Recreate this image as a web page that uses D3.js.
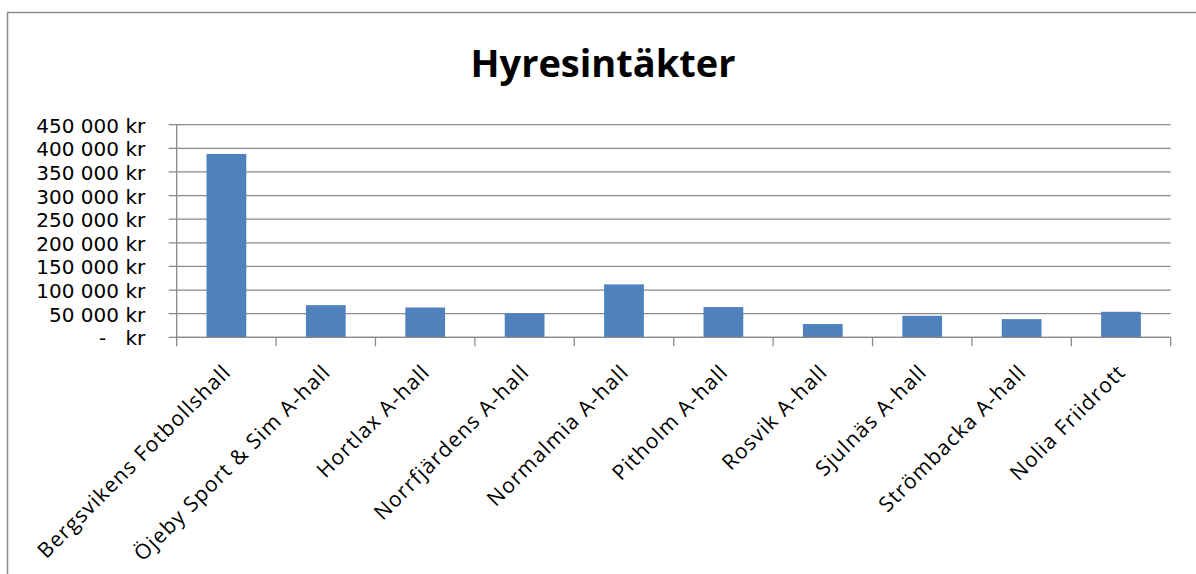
<!doctype html>
<html lang="sv">
  <head>
    <meta charset="utf-8">
    <title>Hyresintäkter</title>
    <script src="https://d3js.org/d3.v7.min.js"></script>
    <style>
      body { margin: 0; background: #ffffff; }
      svg { display: block; font-family: "Open Sans", sans-serif; }
    </style>
  </head>
  <body>
    <svg width="1196" height="574"></svg>
    <script>
      var categories = [
        "Bergsvikens Fotbollshall",
        "Öjeby Sport & Sim A-hall",
        "Hortlax A-hall",
        "Norrfjärdens A-hall",
        "Normalmia A-hall",
        "Pitholm A-hall",
        "Rosvik A-hall",
        "Sjulnäs A-hall",
        "Strömbacka A-hall",
        "Nolia Friidrott"
      ];
      var values = [388000, 68000, 63000, 50500, 112000, 64000, 28000, 45500, 38500, 54000];
      var yTicks = [0, 50000, 100000, 150000, 200000, 250000, 300000, 350000, 400000, 450000];
      var title = "Hyresintäkter";

      var svg = d3.select("svg"),
          margin = {top: 124.7, right: 25.3, bottom: 236.7, left: 176.7},
          width = +svg.attr("width") - margin.left - margin.right,
          height = +svg.attr("height") - margin.top - margin.bottom;

      // chart area border (runs off the right and bottom edge)
      svg.append("rect")
          .attr("x", 7.5)
          .attr("y", 12.5)
          .attr("width", 1300)
          .attr("height", 700)
          .attr("fill", "none")
          .attr("stroke", "#8a8a8a")
          .attr("stroke-width", 1.5);

      svg.append("text")
          .attr("x", 603)
          .attr("y", 77)
          .attr("text-anchor", "middle")
          .attr("font-size", 38)
          .attr("font-weight", "bold")
          .attr("fill", "#000000")
          .text(title);

      var g = svg.append("g").attr("transform", "translate(" + margin.left + "," + margin.top + ")");

      var x = d3.scaleBand()
                .domain(categories)
                .range([0, width])
                .padding(0);
      var y = d3.scaleLinear()
                .domain([0, 450000])
                .range([height, 0]);

      var locale = d3.formatLocale({decimal: ",", thousands: " ", grouping: [3], currency: ["", " kr"]});
      var fmt = locale.format(",");
      function tickLabel(d) { return d === 0 ? "-   kr" : fmt(d) + " kr"; }

      // gridlines
      g.append("g")
          .selectAll("line")
          .data(yTicks)
          .enter().append("line")
          .attr("x1", -8)
          .attr("x2", width)
          .attr("y1", function(d) { return y(d); })
          .attr("y2", function(d) { return y(d); })
          .attr("stroke", "#8a8a8a")
          .attr("stroke-width", 1.3);

      // y labels
      g.append("g")
          .selectAll("text")
          .data(yTicks)
          .enter().append("text")
          .attr("x", -31.5)
          .attr("y", function(d) { return y(d); })
          .attr("dy", "0.4em")
          .attr("text-anchor", "end")
          .attr("font-family", "'DejaVu Sans', sans-serif")
          .attr("font-size", 20)
          .style("white-space", "pre")
          .attr("fill", "#000000")
          .text(tickLabel);

      // bars
      g.append("g")
          .selectAll("rect")
          .data(values)
          .enter().append("rect")
          .attr("x", function(d, i) { return x(categories[i]) + x.bandwidth() * 0.3; })
          .attr("width", x.bandwidth() * 0.4)
          .attr("y", function(d) { return y(d); })
          .attr("height", function(d) { return height - y(d); })
          .attr("fill", "#4f81bd");

      // value axis line
      g.append("line")
          .attr("x1", 0).attr("x2", 0)
          .attr("y1", 0).attr("y2", height)
          .attr("stroke", "#8a8a8a")
          .attr("stroke-width", 1.3);

      // category axis with boundary ticks
      var bounds = categories.map(function(c) { return x(c); }).concat([width]);
      g.append("g")
          .selectAll("line")
          .data(bounds)
          .enter().append("line")
          .attr("x1", function(d) { return d; })
          .attr("x2", function(d) { return d; })
          .attr("y1", height)
          .attr("y2", height + 9)
          .attr("stroke", "#8a8a8a")
          .attr("stroke-width", 1.3);
      g.append("line")
          .attr("x1", 0).attr("x2", width)
          .attr("y1", height).attr("y2", height)
          .attr("stroke", "#8a8a8a")
          .attr("stroke-width", 1.3);

      g.append("g")
          .selectAll("text")
          .data(categories)
          .enter().append("text")
          .attr("transform", function(d) {
            return "translate(" + (x(d) + x.bandwidth() / 2 + 6) + "," + (height + 36) + ") rotate(-45)";
          })
          .attr("text-anchor", "end")
          .attr("font-size", 21)
          .attr("letter-spacing", "1.2px")
          .attr("fill", "#000000")
          .text(function(d) { return d; });
    </script>
  </body>
</html>
